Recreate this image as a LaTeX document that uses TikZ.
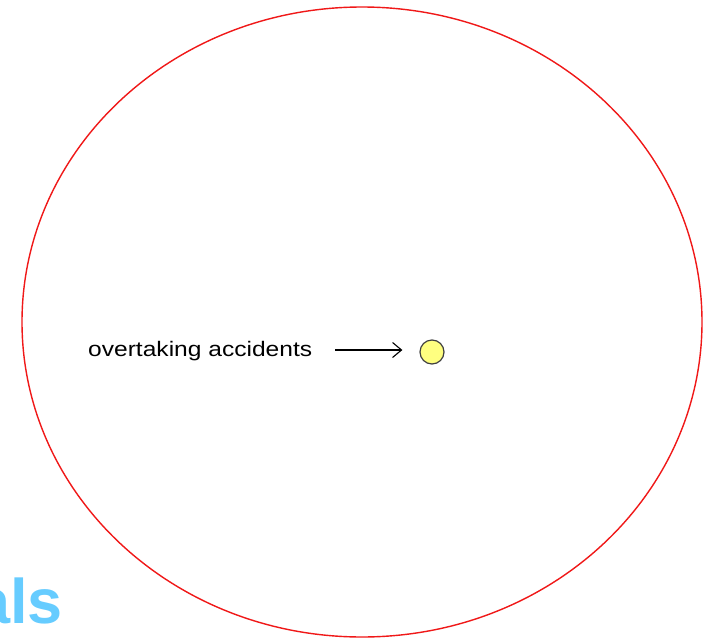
\documentclass[tikz,border=0pt]{standalone}
\usepackage{fontspec}
\setmainfont{Liberation Sans}
\usepackage{graphicx}
\usetikzlibrary{arrows.meta}

\definecolor{ringred}{HTML}{F01818}
\definecolor{dotyellow}{HTML}{FFFF80}
\definecolor{titleblue}{HTML}{66CCFF}

\tikzset{
    label text/.style={font=\fontsize{21}{24}\selectfont, inner sep=0pt},
    accident dot/.style={circle, draw=black!75, fill=dotyellow, line width=1.2pt, minimum size=24pt, inner sep=0pt},
}

\begin{document}
\begin{tikzpicture}[x=1pt, y=-1pt, >={Straight Barb[length=9pt, width=15pt]}]
        % frame of the slide
        \clip (0,0) rectangle (710,640);
        \useasboundingbox (0,0) rectangle (710,640);
        \fill[white] (0,0) rectangle (710,640);

        % Road ring
        \draw[ringred, line width=1.4pt] (362,322) ellipse [x radius=340, y radius=315];

        % Label, arrow and the point
        \node[label text, anchor=base west] (label) at (88,356) {\scalebox{1.17}[1]{overtaking accidents}};
        \node[accident dot] (dot) at (432,352) {};
        \coordinate (tail) at (335,350);
        \draw[->, line width=1.1pt] (tail) -- ([xshift=-17pt]dot.west |- tail);

        % cut-off heading
        \node[anchor=base east, inner sep=0pt, text=titleblue, font=\fontsize{63}{70}\selectfont\bfseries] (heading) at (63,623) {als};
    \end{tikzpicture}
\end{document}
